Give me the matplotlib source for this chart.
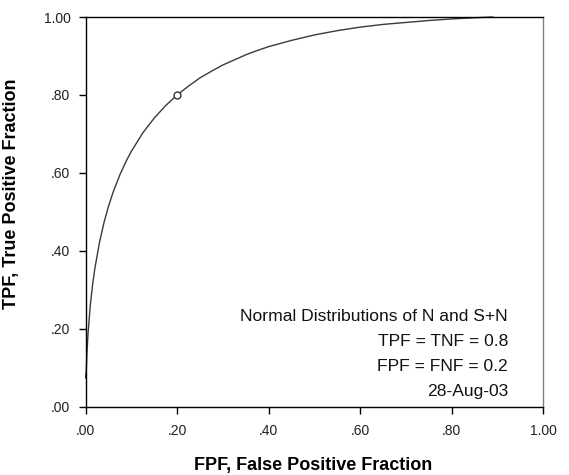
import matplotlib
matplotlib.use("Agg")
import matplotlib.pyplot as plt

plt.rcParams['font.family'] = ['Liberation Sans', 'DejaVu Sans']

# ROC curve points (binormal shape)
fpf = [0.0, 0.0, 0.001, 0.002, 0.003, 0.005, 0.01, 0.015, 0.02, 0.03, 0.04,
       0.05, 0.06, 0.075, 0.09, 0.10, 0.125, 0.15, 0.175, 0.20, 0.225, 0.25,
       0.275, 0.30, 0.325, 0.35, 0.375, 0.40, 0.45, 0.50, 0.55, 0.60, 0.65,
       0.70, 0.75, 0.80, 0.85, 0.89]
tpf = [0.074, 0.08, 0.088, 0.116, 0.143, 0.186, 0.26, 0.313, 0.355, 0.421, 0.473,
       0.515, 0.551, 0.596, 0.634, 0.656, 0.703, 0.741, 0.773, 0.80, 0.823, 0.844,
       0.861, 0.877, 0.890, 0.903, 0.914, 0.924, 0.940, 0.954, 0.965, 0.974, 0.981,
       0.986, 0.991, 0.995, 0.998, 1.0]

op_fpf = [0.20]
op_tpf = [0.80]

ticks = [0.0, 0.2, 0.4, 0.6, 0.8, 1.0]
tick_labels = ['.00', '.20', '.40', '.60', '.80', '1.00']

notes = ['Normal Distributions of N and S+N',
         'TPF = TNF = 0.8',
         'FPF = FNF = 0.2',
         '28-Aug-03']

fig = plt.figure(figsize=(5.69, 4.75), dpi=100)
ax = fig.add_axes([0.1506, 0.1432, 0.8037, 0.8210])

ax.plot(fpf, tpf, color='#3a3a3a', linewidth=1.0, clip_on=False)
ax.plot(op_fpf, op_tpf, 'o', markersize=5, markerfacecolor='white',
        markeredgecolor='#333333', markeredgewidth=1.0)

ax.set_xlim(0, 1)
ax.set_ylim(0, 1)
ax.set_xticks(ticks)
ax.set_xticklabels(tick_labels)
ax.set_yticks(ticks)
ax.set_yticklabels(tick_labels)
ax.tick_params(direction='out', length=5, width=1, labelsize=10, colors='black')
ax.tick_params(axis='x', pad=7)
ax.tick_params(axis='y', pad=6)
for lab in ax.get_xticklabels() + ax.get_yticklabels():
    lab.set_color('#222222')

for side in ['left', 'bottom', 'top']:
    ax.spines[side].set_color('black')
    ax.spines[side].set_linewidth(1.0)
ax.spines['right'].set_color('#808080')
ax.spines['right'].set_linewidth(1.0)

ax.set_xlabel('FPF, False Positive Fraction', fontsize=13, fontweight='bold')
ax.set_ylabel('TPF, True Positive Fraction', fontsize=13, fontweight='bold')
ax.xaxis.set_label_coords(0.497, -0.128)
ax.yaxis.set_label_coords(-0.144, 0.546)

baselines = [321, 346, 371, 396]
for txt, yb in zip(notes, baselines):
    ax.text(0.9235, (407 - yb) / 390, txt, transform=ax.transAxes,
            ha='right', va='baseline', fontsize=12.6, color='#111111')

fig.savefig('out.png', dpi=100)
